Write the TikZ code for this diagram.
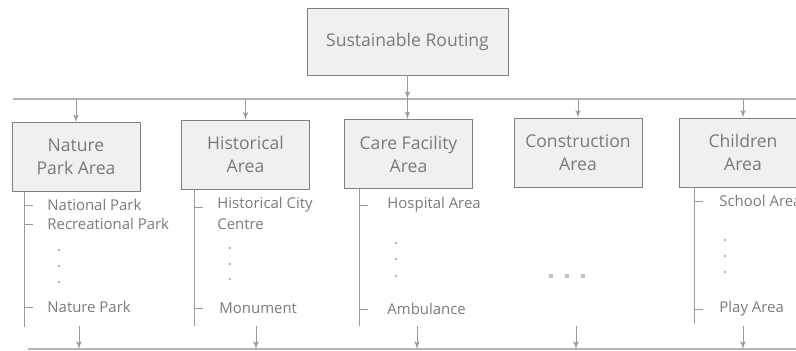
\documentclass[tikz,border=0pt]{standalone}
\usepackage{fontspec}
\setmainfont{Open Sans}
\usetikzlibrary{arrows, positioning}
\definecolor{boxfill}{HTML}{EFF0F0}
\definecolor{boxline}{HTML}{808080}
\definecolor{textgrey}{HTML}{7A7A7A}
\definecolor{linegrey}{HTML}{9A9A9A}
\definecolor{busgrey}{HTML}{B4B4B4}
\definecolor{sqgrey}{HTML}{C4C4C4}
\tikzstyle{box} = [rectangle, draw=boxline, fill=boxfill, text=textgrey, align=center, minimum width=2.56cm, minimum height=1.38cm, font=\fontsize{10}{13}\selectfont]
\tikzstyle{subitem} = [anchor=west, inner sep=0pt, text=textgrey, align=left, font=\fontsize{8.5}{12}\selectfont]
\tikzstyle{connector} = [draw=linegrey, -latex']
\tikzset{
  stem/.style={draw=linegrey, line width=0.5pt},
  bus/.style={draw=busgrey, line width=0.8pt},
  vdot/.style={circle, fill=linegrey, inner sep=0pt, minimum size=1.3pt},
  sqdot/.style={rectangle, fill=sqgrey, inner sep=0pt, minimum size=2.4pt}
}

\begin{document}
\begin{tikzpicture}[x=0.02cm, y=-0.02cm, line width=0.5pt]
      \useasboundingbox (0,0) rectangle (796,351);
      \clip (0,0) rectangle (796,351);
      % Define nodes
      \node (routing) [box, minimum width=4.02cm, minimum height=1.34cm] at (407.5,41.5) {Sustainable Routing};
      \node (nature) [box] at (76,157) {Nature\\Park Area};
      \node (historical) [box] at (245.5,154.5) {Historical\\Area};
      \node (care) [box] at (408.5,154) {Care Facility\\Area};
      \node (construction) [box] at (578,152.5) {Construction\\Area};
      \node (children) [box] at (743,152.5) {Children\\Area};

      % Buses
      \coordinate (top_bus_l) at (13,99);
      \coordinate (top_bus_r) at (800,99);
      \coordinate (bottom_bus_l) at (28,349);
      \coordinate (bottom_bus_r) at (800,349);
      \draw [bus] (top_bus_l) -- (top_bus_r);
      \draw [bus] (bottom_bus_l) -- (bottom_bus_r);

      % Sub items
      \node (national_park) [subitem] at (47,205) {National Park};
      \node (recreational_park) [subitem] at (47,224) {Recreational Park};
      \node (nature_park) [subitem] at (47,307) {Nature Park};
      \node (city_centre) [subitem] at (217,213.5) {Historical City\\Centre};
      \node (monument) [subitem] at (219,308) {Monument};
      \node (hospital) [subitem] at (387,205) {Hospital Area};
      \node (ambulance) [subitem] at (387,309) {Ambulance};
      \node (school) [subitem] at (719,201) {School Area};
      \node (play) [subitem] at (719,309) {Play Area};

      % Dots
      \foreach \y in {250,266,282} \node [vdot] at (59,\y) {};
      \foreach \y in {248,264,279} \node [vdot] at (230,\y) {};
      \foreach \y in {243,259,276} \node [vdot] at (396,\y) {};
      \foreach \y in {240,256,272} \node [vdot] at (725,\y) {};
      \foreach \x in {551,567,583} \node [sqdot] at (\x,276) {};

      % Stems and ticks
      \coordinate (nature_stem) at (24,327);
      \coordinate (historical_stem) at (194,326);
      \coordinate (care_stem) at (359,326);
      \coordinate (children_stem) at (694,324);
      \draw [stem] (nature_stem |- nature.south) -- (nature_stem);
      \draw [stem] (historical_stem |- historical.south) -- (historical_stem);
      \draw [stem] (care_stem |- care.south) -- (care_stem);
      \draw [stem] (children_stem |- children.south) -- (children_stem);
      \foreach \n in {national_park, recreational_park, nature_park}
        \draw [stem] (nature_stem |- \n.west) -- ++(9,0);
      \draw [stem] (historical_stem |- city_centre.north west) ++(0,11) -- ++(9,0);
      \draw [stem] (historical_stem |- monument.west) -- ++(9,0);
      \draw [stem] (care_stem |- hospital.west) -- ++(9,0);
      \draw [stem] (care_stem |- ambulance.west) -- ++(9,0);
      \draw [stem] (children_stem |- school.west) -- ++(9,0);
      \draw [stem] (children_stem |- play.west) -- ++(9,0);

      % Draw connectors
      \draw [connector] (routing.south) -- (routing.south |- top_bus_l);
      \draw [connector] (nature.north |- top_bus_l) -- (nature.north);
      \draw [connector] (historical.north |- top_bus_l) -- (historical.north);
      \draw [connector] (routing.south |- top_bus_l) -- (routing.south |- care.north);
      \draw [connector] (construction.north |- top_bus_l) -- (construction.north);
      \draw [connector] (children.north |- top_bus_l) -- (children.north);

      \coordinate (nature_out) at (79,326);
      \coordinate (historical_out) at (256,326);
      \coordinate (care_out) at (417,326);
      \coordinate (construction_out) at (576,326);
      \coordinate (children_out) at (743,326);
      \foreach \n in {nature_out, historical_out, care_out, construction_out, children_out}
        \draw [connector] (\n) -- (\n |- bottom_bus_l);
    \end{tikzpicture}
\end{document}
